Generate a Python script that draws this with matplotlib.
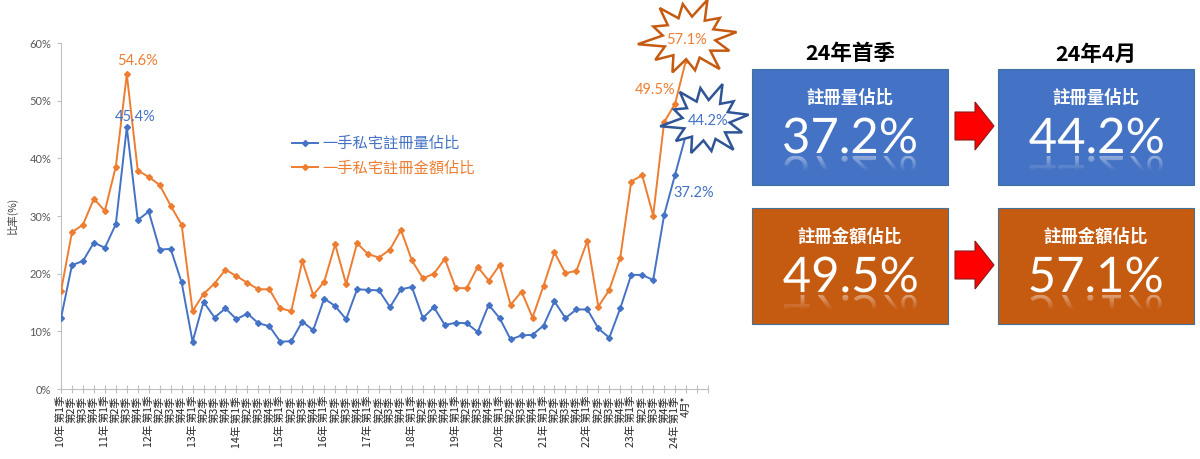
import matplotlib
matplotlib.use('Agg')
import matplotlib.pyplot as plt
import numpy as np
from matplotlib.patches import Polygon, Rectangle, PathPatch
from matplotlib.textpath import TextPath
from matplotlib.font_manager import FontProperties
from matplotlib.transforms import (Affine2D, IdentityTransform,
                                   ScaledTranslation, Bbox, TransformedBbox)

plt.rcParams['font.family'] = ['Noto Sans CJK TC', 'DejaVu Sans']

# ---------------- data ----------------
years = ['10年', '11年', '12年', '13年', '14年', '15年', '16年', '17年',
         '18年', '19年', '20年', '21年', '22年', '23年', '24年']
quarters = ['第1季', '第2季', '第3季', '第4季']
last_label = '4月*'

series_volume_name = '一手私宅註冊量佔比'
series_value_name = '一手私宅註冊金額佔比'

volume_share = [12.3, 21.5, 22.2, 25.4, 24.5, 28.6, 45.4, 29.3, 30.8, 24.2,
                24.3, 18.5, 8.2, 15.1, 12.4, 14.0, 12.1, 13.1, 11.4, 10.9,
                8.2, 8.3, 11.7, 10.2, 15.7, 14.4, 12.1, 17.3, 17.2, 17.1,
                14.2, 17.3, 17.7, 12.3, 14.2, 11.1, 11.5, 11.4, 9.9, 14.6,
                12.3, 8.6, 9.3, 9.4, 11.0, 15.2, 12.3, 13.8, 13.8, 10.5,
                8.9, 14.0, 19.8, 19.8, 18.9, 30.2, 37.2, 44.2]
value_share = [17.0, 27.2, 28.5, 33.0, 30.9, 38.6, 54.6, 37.9, 36.8, 35.4,
               31.8, 28.5, 13.5, 16.5, 18.3, 20.7, 19.6, 18.4, 17.3, 17.3,
               14.0, 13.5, 22.2, 16.3, 18.6, 25.1, 18.2, 25.3, 23.4, 22.8,
               24.2, 27.6, 22.3, 19.2, 20.0, 22.6, 17.5, 17.5, 21.2, 18.8,
               21.5, 14.6, 16.9, 12.4, 17.9, 23.7, 20.1, 20.5, 25.7, 14.3,
               17.2, 22.8, 36.0, 37.1, 30.1, 46.3, 49.5, 57.1]

yticks = [0, 10, 20, 30, 40, 50, 60]

panel_titles = ['24年首季', '24年4月']
panel_volume_label = '註冊量佔比'
panel_value_label = '註冊金額佔比'

tick_labels = []
for y in years[:-1]:
    for q in quarters:
        tick_labels.append(y + ' ' + q if q == quarters[0] else q)
tick_labels.append(years[-1] + ' ' + quarters[0])
tick_labels.append(last_label)

BLUE = '#4472C4'
ORANGE = '#ED7D31'
BOX_BLUE = '#4472C4'
BOX_ORANGE = '#C55A11'

W, H = 1200, 459
fig = plt.figure(figsize=(W / 100, H / 100), dpi=100)
fig.patch.set_facecolor('white')

# ---------------- main chart ----------------
y0_px, y60_px = 389, 43.2
ax = fig.add_axes([61 / W, 1 - y0_px / H, 647 / W, (y0_px - y60_px) / H])
x = np.arange(len(volume_share))
ax.plot(x, value_share, color=ORANGE, lw=1.4, marker='D', ms=3,
        label=series_value_name, zorder=3)
ax.plot(x, volume_share, color=BLUE, lw=1.4, marker='D', ms=3,
        label=series_volume_name, zorder=3)
ax.set_xlim(0, 59)
ax.set_ylim(0, 60)
ax.set_yticks(yticks)
ax.set_yticklabels([f'{v}%' for v in yticks], fontsize=8, color='#595959',
                   family=['Lato', 'DejaVu Sans'])
ax.set_xticks(x)
ax.set_xticklabels(tick_labels, rotation=90, fontsize=7.6, color='#262626',
                   va='top', ha='center')
ax.set_xticks([58, 59], minor=True)
ax.tick_params(axis='x', which='both', direction='inout', length=6,
               color='#BFBFBF', width=0.8, pad=2)
ax.tick_params(axis='y', direction='out', length=3, color='#BFBFBF',
               width=0.8, pad=4)
for s in ['top', 'right']:
    ax.spines[s].set_visible(False)
for s in ['left', 'bottom']:
    ax.spines[s].set_color('#BFBFBF')
    ax.spines[s].set_linewidth(0.8)
ax.patch.set_alpha(0)

fig.text(12.5 / W, 1 - 215 / H, '比率(%)', rotation=90, fontsize=7.5,
         color='#404040', ha='center', va='center')

handles, labels = ax.get_legend_handles_labels()
leg = ax.legend(handles[::-1], labels[::-1], loc='upper left',
                bbox_to_anchor=(292 / W, 1 - 135 / H),
                bbox_transform=fig.transFigure, frameon=False, fontsize=11,
                handlelength=1.7, handletextpad=0.3, labelspacing=0.5,
                borderpad=0, borderaxespad=0, labelcolor='linecolor')

num_font = ['Lato', 'DejaVu Sans']


def label_at(i, series, color, dx, dy):
    ax.annotate(f'{series[i]:.1f}%', xy=(i, series[i]), xytext=(dx, dy),
                textcoords='offset pixels', ha='center', va='center',
                fontsize=10.5, color=color, family=num_font, zorder=6)


peak = int(np.argmax(value_share[:20]))
label_at(peak, value_share, ORANGE, 11, 13)
label_at(peak, volume_share, BLUE, 8, 10)
label_at(len(x) - 2, value_share, ORANGE, -20, 14)
label_at(len(x) - 2, volume_share, BLUE, 19, -18)

# starbursts
outer = [1.0, 0.82, 1.05, 0.88, 0.98, 0.8, 1.08, 0.9, 0.95, 0.84, 1.02, 0.9]
inner = 0.55


def starburst(i, series, color, edge, off, rx, ry, toff):
    n = len(outer)
    verts = []
    for k in range(n):
        a = 2 * np.pi * k / n + 0.15
        verts.append((off[0] + rx * outer[k] * np.cos(a),
                      off[1] + ry * outer[k] * np.sin(a)))
        a2 = a + np.pi / n
        verts.append((off[0] + rx * inner * np.cos(a2),
                      off[1] + ry * inner * np.sin(a2)))
    tr = IdentityTransform() + ScaledTranslation(i, series[i], ax.transData)
    poly = Polygon(verts, closed=True, fc='white', ec=edge, lw=1.8,
                   transform=tr, clip_on=False, zorder=5)
    ax.add_patch(poly)
    ax.annotate(f'{series[i]:.1f}%', xy=(i, series[i]), xytext=toff,
                textcoords='offset pixels', ha='center', va='center',
                fontsize=10.5, color=color, family=num_font, zorder=7,
                annotation_clip=False)


last = len(x) - 1
starburst(last, value_share, ORANGE, '#C55A11', (3, 22), 48, 39, (0, 20))
starburst(last, volume_share, BLUE, '#2F5597', (20, 14), 43, 37, (22, 13))

# ---------------- right panel ----------------
ax2 = fig.add_axes([0, 0, 1, 1])
ax2.set_xlim(0, W)
ax2.set_ylim(H, 0)
ax2.axis('off')
ax2.patch.set_alpha(0)

big_fp = FontProperties(family='Lato', weight='normal')
big_size = 49


def big_number(s, cx, yb, box_bottom):
    tp = TextPath((0, 0), s, size=big_size, prop=big_fp)
    ext = tp.get_extents()
    mid = (ext.x0 + ext.x1) / 2
    tr = Affine2D().scale(1, -1).translate(cx - mid, yb) + ax2.transData
    ax2.add_patch(PathPatch(tp, fc='white', ec='none', transform=tr,
                            zorder=4))
    n = 7
    for k in range(n):
        trr = Affine2D().translate(cx - mid, yb + 3) + ax2.transData
        p = PathPatch(tp, fc='white', ec='none', transform=trr,
                      alpha=0.4 * (1 - k / n), zorder=4)
        ax2.add_patch(p)
        ylo = yb + 3 + k * 2
        yhi = min(ylo + 2, box_bottom - 1)
        bb = TransformedBbox(Bbox.from_extents(cx - 100, ylo, cx + 100, yhi),
                             ax2.transData)
        p.set_clip_path(None)
        p.set_clip_box(bb)
        p.set_clip_on(True)


boxes_x = [752, 998]
box_w = 196
rows = [(69, BOX_BLUE, panel_volume_label, volume_share),
        (208, BOX_ORANGE, panel_value_label, value_share)]
idx_cols = [len(x) - 2, len(x) - 1]
box_h = 116

for bx, title in zip(boxes_x, panel_titles):
    ax2.text(bx + box_w / 2, 54, title, fontsize=15.5, fontweight='bold',
             ha='center', va='center', color='black')

for (top, col, lab, ser) in rows:
    for bx, ii in zip(boxes_x, idx_cols):
        ax2.add_patch(Rectangle((bx, top), box_w, box_h, fc=col,
                                ec='#41719C', lw=0.8, zorder=2))
        ax2.text(bx + box_w / 2, top + 29, lab, fontsize=12.5,
                 fontweight='bold', color='white', ha='center', va='center',
                 zorder=4)
        big_number(f'{ser[ii]:.1f}%', bx + box_w / 2, top + 84,
                   top + box_h)
    # red arrow
    cy = top + 57
    arrow = [(955, cy - 14), (975, cy - 14), (975, cy - 24), (994, cy),
             (975, cy + 24), (975, cy + 14), (955, cy + 14)]
    ax2.add_patch(Polygon(arrow, closed=True, fc='#FF0000', ec='#8B1A1A',
                          lw=0.8, zorder=3))

fig.savefig('out.png', dpi=100, facecolor='white')
